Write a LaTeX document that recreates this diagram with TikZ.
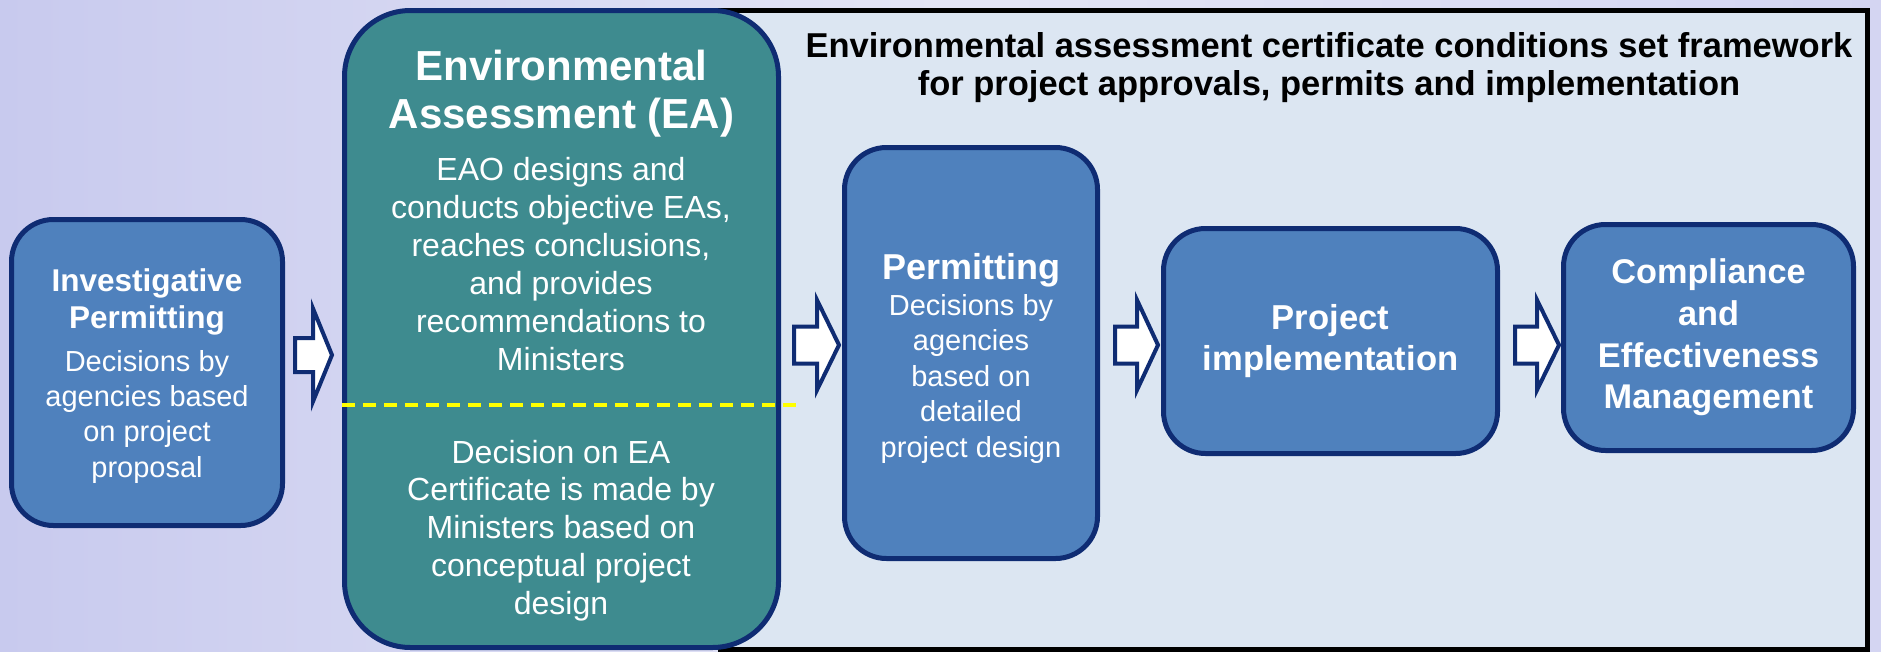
\documentclass[tikz,border=0pt]{standalone}
\usepackage{fontspec}
\setmainfont{Liberation Sans}
\usetikzlibrary{calc}
\definecolor{bgA}{HTML}{C8CAEE}
\definecolor{bgB}{HTML}{E4E5F6}
\definecolor{bgC}{HTML}{D4D5F2}
\definecolor{framefill}{HTML}{DCE6F2}
\definecolor{boxblue}{HTML}{4F81BD}
\definecolor{navyline}{HTML}{0F2C73}
\definecolor{eateal}{HTML}{3E8B8F}
\definecolor{dashyellow}{HTML}{FFFF00}
\newcommand{\blockarr}[5]{%
  \draw[blockarrow] let \p1=(#1), \p2=(#2) in
    (\x1,\y2+#4) -- (\x2-#3,\y2+#4) -- (\x2-#3,\y2+#5) -- (\x2,\y2)
    -- (\x2-#3,\y2-#5) -- (\x2-#3,\y2-#4) -- (\x1,\y2-#4) -- cycle;}
\begin{document}
\begin{tikzpicture}[x=1pt,y=-1pt,
  box/.style={draw=navyline, line width=5pt, fill=boxblue, rounded corners=42pt, inner sep=0pt},
  eabox/.style={box, fill=eateal, rounded corners=66pt},
  txt/.style={text=white, align=center, inner sep=0pt},
  blockarrow/.style={draw=navyline, fill=white, line width=4pt, line join=miter},
  divider/.style={draw=dashyellow, line width=4pt, dash pattern=on 13pt off 8pt},
]
\useasboundingbox (0,0) rectangle (1881,651);
\shade[left color=bgA, right color=bgC, middle color=bgB] (0,0) rectangle (1881,651);
% framework panel
\draw[black, line width=5pt, fill=framefill] (720,10) rectangle (1867.5,649);
\node[text=black, align=center, inner sep=0pt, font=\fontsize{34.5}{38}\selectfont\bfseries] (title) at (1329,67.3)
  {Environmental assessment certificate conditions set framework\\for project approvals, permits and implementation};
% boxes
\node[box, minimum width=271pt, minimum height=306pt] (inv) at (147,372.5) {};
\node[eabox, minimum width=434pt, minimum height=637pt] (ea) at (561.5,329) {};
\node[box, minimum width=253pt, minimum height=411pt] (perm) at (971,353) {};
\node[box, txt, minimum width=334pt, minimum height=225pt, font=\fontsize{34.6}{41}\selectfont\bfseries] (proj) at (1330.5,341)
  {Project\\implementation};
\node[box, txt, minimum width=290pt, minimum height=226pt, font=\fontsize{34.3}{41.7}\selectfont\bfseries] (comp) at (1708.5,337.5)
  {Compliance\\and\\Effectiveness\\Management};
% texts
\node[txt, font=\fontsize{31.5}{37}\selectfont\bfseries] (invT) at (147,301.5) {Investigative\\Permitting};
\node[txt, font=\fontsize{29}{35.3}\selectfont] (invB) at (147,416.6) {Decisions by\\agencies based\\on project\\proposal};
\node[txt, font=\fontsize{42}{48}\selectfont\bfseries] (eaT) at (561.5,93.4) {Environmental\\Assessment (EA)};
\node[txt, font=\fontsize{32}{38}\selectfont] (eaB) at (561,264.2)
  {EAO designs and\\conducts objective EAs,\\reaches conclusions,\\and provides\\recommendations to\\Ministers};
\node[txt, font=\fontsize{32}{37.75}\selectfont] (eaD) at (561,530.4)
  {Decision on EA\\Certificate is made by\\Ministers based on\\conceptual project\\design};
\node[txt, font=\fontsize{36}{42}\selectfont\bfseries] (permT) at (971,269.9) {Permitting};
\node[txt, font=\fontsize{29}{35.5}\selectfont] (permB) at (971,378.6)
  {Decisions by\\agencies\\based on\\detailed\\project design};
% divider
\coordinate (divEnd) at (797,405);
\draw[divider] (ea.west |- divEnd) -- (divEnd);
% block arrows
\coordinate (a1s) at (295,355);  \coordinate (a1t) at (332,355);
\coordinate (a2s) at (794,345);  \coordinate (a2t) at (839,345);
\coordinate (a3s) at (1115,345); \coordinate (a3t) at (1158,345);
\coordinate (a4s) at (1515,345); \coordinate (a4t) at (1559,345);
\blockarr{a1s}{a1t}{19pt}{17pt}{46.5pt}
\blockarr{a2s}{a2t}{22pt}{18.5pt}{45pt}
\blockarr{a3s}{a3t}{21pt}{18.5pt}{45pt}
\blockarr{a4s}{a4t}{22pt}{18.5pt}{45pt}
\end{tikzpicture}
\end{document}
